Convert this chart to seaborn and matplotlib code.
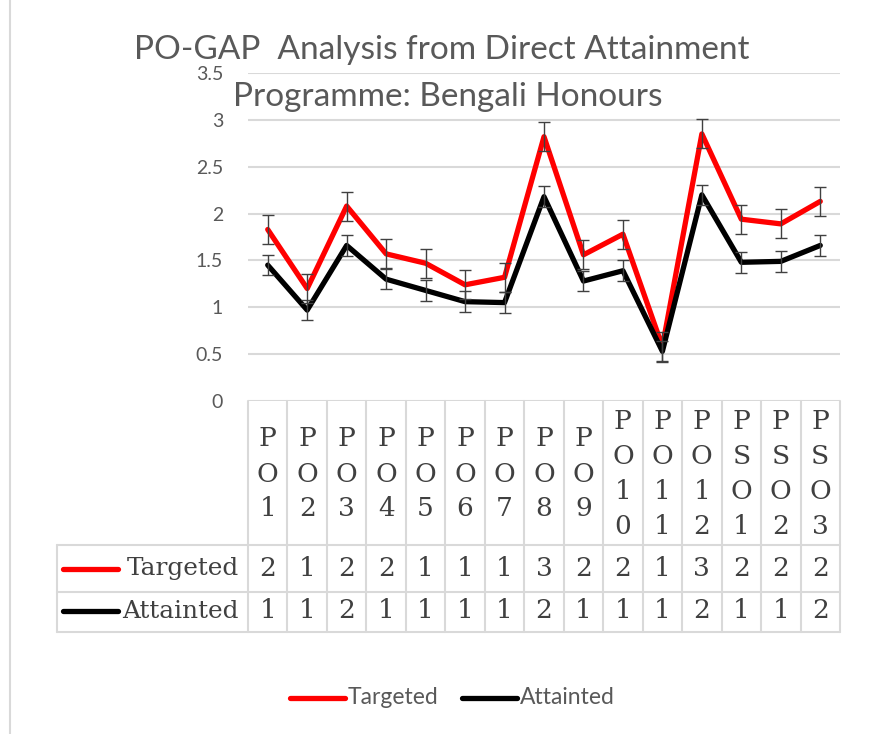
import matplotlib.pyplot as plt
import numpy as np
import pandas as pd
import seaborn as sns
from matplotlib.lines import Line2D
from matplotlib.transforms import blended_transform_factory

outcomes = ['PO1', 'PO2', 'PO3', 'PO4', 'PO5', 'PO6', 'PO7', 'PO8', 'PO9',
            'PO10', 'PO11', 'PO12', 'PSO1', 'PSO2', 'PSO3']
targeted = [1.83, 1.20, 2.08, 1.57, 1.47, 1.24, 1.32, 2.82, 1.56, 1.78, 0.58, 2.85, 1.94, 1.89, 2.13]
attained = [1.45, 0.97, 1.66, 1.30, 1.18, 1.06, 1.05, 2.18, 1.28, 1.39, 0.53, 2.20, 1.48, 1.49, 1.66]
targeted_err = 0.155
attained_err = 0.11
series_names = ['Targeted', 'Attainted']
series_colors = ['#ff0000', '#000000']

W, H = 872, 734
sns.set_style('white')
plt.rcParams['font.family'] = ['Lato', 'DejaVu Sans']

fig = plt.figure(figsize=(W / 100, H / 100), dpi=100)


def fx(px):
    return px / W


def fy(py):
    return 1 - py / H


ax = fig.add_axes([fx(248), fy(401), fx(840 - 248), (401 - 73) / H])

df = pd.DataFrame({
    'pos': list(range(len(outcomes))) * 2,
    'value': targeted + attained,
    'series': [series_names[0]] * len(outcomes) + [series_names[1]] * len(outcomes),
})
sns.lineplot(data=df, x='pos', y='value', hue='series',
             palette=dict(zip(series_names, series_colors)),
             linewidth=3.8, legend=False, ax=ax)
x = np.arange(len(outcomes))
ax.errorbar(x, targeted, yerr=targeted_err, fmt='none', ecolor='#404040',
            elinewidth=1, capsize=4.5, capthick=1, zorder=5)
ax.errorbar(x, attained, yerr=attained_err, fmt='none', ecolor='#404040',
            elinewidth=1, capsize=4.5, capthick=1, zorder=5)

ax.set_xlim(-0.5, len(outcomes) - 0.5)
ax.set_ylim(0, 3.5)
ax.set_yticks(np.arange(0, 3.51, 0.5))
ax.set_yticklabels(['%g' % t for t in np.arange(0, 3.51, 0.5)])
ax.set_xticks([])
ax.set_xlabel('')
ax.set_ylabel('')
ax.grid(axis='y', color='#d9d9d9', linewidth=1.5)
ax.tick_params(axis='y', length=0, labelsize=14, labelcolor='#595959', pad=18)
for s in ax.spines.values():
    s.set_visible(False)

# data table under the plot
blend = blended_transform_factory(ax.transData, fig.transFigure)
grid_kw = dict(color='#d9d9d9', linewidth=1.5)
serif = dict(family=['DejaVu Serif'], color='#404040', fontsize=19)

for i in range(len(outcomes) + 1):
    fig.add_artist(Line2D([i - 0.5, i - 0.5], [fy(401), fy(632)], transform=blend, **grid_kw))
for py in [545, 592, 632]:
    fig.add_artist(Line2D([fx(57), fx(840)], [fy(py), fy(py)], **grid_kw))
fig.add_artist(Line2D([fx(57), fx(57)], [fy(545), fy(632)], **grid_kw))

for i, lab in enumerate(outcomes):
    ax.text(i, fy(474), '\n'.join(lab), transform=blend, ha='center', va='center',
            linespacing=1.5, **serif)

for row, (name, col, vals) in enumerate(zip(series_names, series_colors, [targeted, attained])):
    cy = fy(569 + row * 42)
    fig.add_artist(Line2D([fx(63), fx(118)], [cy, cy], color=col, linewidth=3.8,
                          solid_capstyle='round'))
    fig.text(fx(239), cy, name, ha='right', va='center',
             **{**serif, 'fontsize': 17.8})
    for i, v in enumerate(vals):
        ax.text(i, cy, '%.0f' % v, transform=blend, ha='center', va='center', **serif)

# title
fig.text(fx(442), fy(50), 'PO-GAP  Analysis from Direct Attainment', ha='center',
         va='center', fontsize=24, color='#595959')
fig.text(fx(448), fy(97), 'Programme: Bengali Honours', ha='center',
         va='center', fontsize=24, color='#595959')

# bottom legend
for (name, col, x0) in zip(series_names, series_colors, [290, 462]):
    fig.add_artist(Line2D([fx(x0), fx(x0 + 55)], [fy(698), fy(698)], color=col,
                          linewidth=3.8, solid_capstyle='round'))
    fig.text(fx(x0 + 58), fy(698), name, ha='left', va='center', fontsize=16.5,
             color='#595959')

# chart area border
fig.add_artist(Line2D([fx(10), fx(10)], [0, 1], color='#d9d9d9', linewidth=1.5))

fig.savefig('out.png', dpi=100)
